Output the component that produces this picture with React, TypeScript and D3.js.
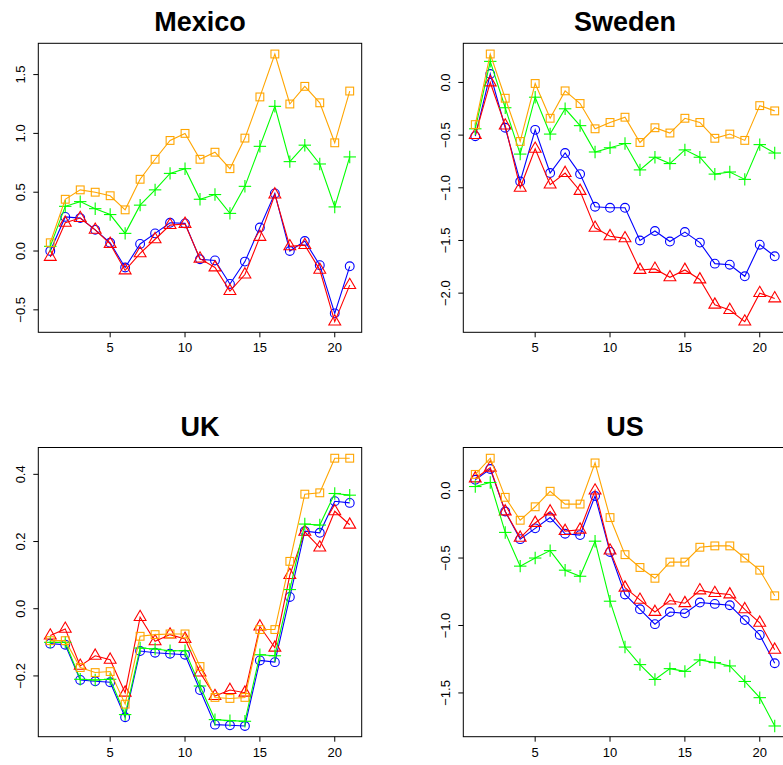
import React from "react";
import * as d3 from "d3";

const xIndex = d3.range(1, 22);

const countries = ["Mexico", "Sweden", "UK", "US"];

const mexicoBlue = [0.0, 0.29, 0.28, 0.18, 0.07, -0.14, 0.06, 0.15, 0.24, 0.235, -0.07, -0.08, -0.28, -0.09, 0.2, 0.49, 0.0, 0.085, -0.12, -0.53, -0.13];
const mexicoRed = [-0.05, 0.24, 0.28, 0.18, 0.06, -0.165, -0.02, 0.1, 0.22, 0.23, -0.065, -0.14, -0.34, -0.2, 0.12, 0.48, 0.04, 0.05, -0.16, -0.6, -0.29];
const mexicoGreen = [0.04, 0.38, 0.42, 0.36, 0.31, 0.15, 0.39, 0.52, 0.66, 0.7, 0.44, 0.48, 0.32, 0.55, 0.89, 1.23, 0.76, 0.9, 0.74, 0.375, 0.8];
const mexicoOrange = [0.07, 0.44, 0.52, 0.5, 0.47, 0.35, 0.61, 0.78, 0.94, 1.0, 0.78, 0.84, 0.7, 0.96, 1.31, 1.675, 1.25, 1.4, 1.26, 0.92, 1.36];

const swedenBlue = [-0.51, 0.08, -0.43, -0.94, -0.45, -0.86, -0.67, -0.87, -1.18, -1.19, -1.19, -1.5, -1.41, -1.51, -1.42, -1.52, -1.72, -1.73, -1.84, -1.54, -1.65];
const swedenRed = [-0.5, 0.0, -0.41, -1.0, -0.63, -0.97, -0.86, -1.03, -1.38, -1.46, -1.48, -1.78, -1.77, -1.85, -1.78, -1.87, -2.11, -2.16, -2.27, -2.0, -2.05];
const swedenGreen = [-0.44, 0.2, -0.24, -0.68, -0.14, -0.49, -0.25, -0.41, -0.66, -0.62, -0.58, -0.83, -0.71, -0.77, -0.64, -0.71, -0.87, -0.85, -0.92, -0.59, -0.67];
const swedenOrange = [-0.4, 0.27, -0.15, -0.56, -0.01, -0.34, -0.08, -0.2, -0.44, -0.38, -0.33, -0.57, -0.43, -0.48, -0.34, -0.38, -0.53, -0.49, -0.55, -0.22, -0.27];

const ukBlue = [-0.104, -0.107, -0.212, -0.216, -0.219, -0.323, -0.126, -0.131, -0.134, -0.137, -0.242, -0.345, -0.347, -0.349, -0.154, -0.159, 0.035, 0.231, 0.226, 0.32, 0.315];
const ukRed = [-0.08, -0.06, -0.17, -0.14, -0.152, -0.25, -0.025, -0.097, -0.077, -0.09, -0.19, -0.26, -0.242, -0.25, -0.053, -0.116, 0.1, 0.229, 0.182, 0.29, 0.25];
const ukGreen = [-0.1, -0.1, -0.21, -0.212, -0.21, -0.315, -0.117, -0.12, -0.125, -0.125, -0.23, -0.33, -0.333, -0.335, -0.137, -0.14, 0.057, 0.252, 0.249, 0.343, 0.338];
const ukOrange = [-0.095, -0.095, -0.175, -0.19, -0.187, -0.284, -0.082, -0.077, -0.075, -0.075, -0.172, -0.264, -0.267, -0.264, -0.062, -0.062, 0.141, 0.341, 0.345, 0.448, 0.448];

const usBlue = [0.08, 0.16, -0.155, -0.36, -0.28, -0.2, -0.32, -0.33, -0.04, -0.455, -0.77, -0.88, -0.99, -0.9, -0.91, -0.83, -0.84, -0.85, -0.96, -1.07, -1.28];
const usRed = [0.09, 0.17, -0.155, -0.35, -0.24, -0.155, -0.3, -0.29, 0.0, -0.445, -0.72, -0.81, -0.9, -0.815, -0.835, -0.74, -0.76, -0.77, -0.88, -0.98, -1.18];
const usGreen = [0.03, 0.06, -0.31, -0.56, -0.5, -0.445, -0.59, -0.635, -0.375, -0.82, -1.16, -1.29, -1.4, -1.32, -1.34, -1.255, -1.275, -1.3, -1.415, -1.535, -1.745];
const usOrange = [0.12, 0.24, -0.05, -0.22, -0.12, -0.005, -0.1, -0.1, 0.205, -0.2, -0.475, -0.57, -0.65, -0.53, -0.53, -0.42, -0.41, -0.41, -0.5, -0.59, -0.78];

const xTicks = [5, 10, 15, 20];
const mexicoYTicks = [-0.5, 0, 0.5, 1.0, 1.5];
const swedenYTicks = [-2.0, -1.5, -1.0, -0.5, 0];
const ukYTicks = [-0.2, 0, 0.2, 0.4];
const usYTicks = [-1.5, -1.0, -0.5, 0];

const seriesColors = ["#0000FF", "#FF0000", "#00FF00", "#FFA500"];
const seriesShapes = ["circle", "triangle", "plus", "square"];

const panelData = [
  [mexicoBlue, mexicoRed, mexicoGreen, mexicoOrange],
  [swedenBlue, swedenRed, swedenGreen, swedenOrange],
  [ukBlue, ukRed, ukGreen, ukOrange],
  [usBlue, usRed, usGreen, usOrange],
];
const panelYTicks = [mexicoYTicks, swedenYTicks, ukYTicks, usYTicks];

const boxes = [
  { x0: 38.3, y0: 43.3, x1: 361.7, y1: 332.3 },
  { x0: 463.3, y0: 43.3, x1: 786.7, y1: 332.3 },
  { x0: 38.3, y0: 447.5, x1: 361.7, y1: 736.7 },
  { x0: 463.3, y0: 447.5, x1: 786.7, y1: 736.7 },
];

const FONT = "'Liberation Sans', Arial, Helvetica, sans-serif";
const fmt = (v: number) => {
  const s = v.toFixed(1);
  return s.startsWith("-") ? "\u2212" + s.slice(1) : s;
};

function Marker({ shape, x, y, color }: { shape: string; x: number; y: number; color: string }) {
  const r = 4.4;
  if (shape === "circle") return <circle cx={x} cy={y} r={r} fill="none" stroke={color} strokeWidth={1.1} />;
  if (shape === "square") {
    const h = r * 0.886;
    return <rect x={x - h} y={y - h} width={2 * h} height={2 * h} fill="none" stroke={color} strokeWidth={1.1} />;
  }
  if (shape === "triangle") {
    const tr = 1.555 * r, yc = 0.778 * r, xc = 1.347 * r;
    const pts = `${x},${y - tr} ${x + xc},${y + yc} ${x - xc},${y + yc}`;
    return <polygon points={pts} fill="none" stroke={color} strokeWidth={1.1} />;
  }
  const p = 1.414 * r;
  return (
    <g stroke={color} strokeWidth={1.1}>
      <line x1={x - p} x2={x + p} y1={y} y2={y} />
      <line x1={x} x2={x} y1={y - p} y2={y + p} />
    </g>
  );
}

function Panel({ idx }: { idx: number }) {
  const b = boxes[idx];
  const data = panelData[idx];
  const all = data.flat();
  const [mn, mx] = d3.extent(all) as [number, number];
  const pad = (mx - mn) * 0.04;
  const x = d3.scaleLinear().domain([0.2, 21.8]).range([b.x0, b.x1]);
  const y = d3.scaleLinear().domain([mn - pad, mx + pad]).range([b.y1, b.y0]);
  const line = d3.line<number>().x((_, i) => x(xIndex[i])).y((d) => y(d));
  return (
    <g>
      <text x={(b.x0 + b.x1) / 2} y={b.y0 - 12} textAnchor="middle" fontFamily={FONT} fontWeight="bold" fontSize={27}>
        {countries[idx]}
      </text>
      {data.map((s, si) => (
        <g key={si}>
          <path d={line(s) || ""} fill="none" stroke={seriesColors[si]} strokeWidth={1.1} />
          {s.map((v, i) => (
            <Marker key={i} shape={seriesShapes[si]} x={x(xIndex[i])} y={y(v)} color={seriesColors[si]} />
          ))}
        </g>
      ))}
      <rect x={b.x0} y={b.y0} width={b.x1 - b.x0} height={b.y1 - b.y0} fill="none" stroke="#000" strokeWidth={1} />
      {xTicks.map((t) => (
        <g key={t}>
          <line x1={x(t)} x2={x(t)} y1={b.y1} y2={b.y1 + 5} stroke="#000" />
          <text x={x(t)} y={b.y1 + 20} textAnchor="middle" fontFamily={FONT} fontSize={13}>
            {t}
          </text>
        </g>
      ))}
      {panelYTicks[idx].map((t) => (
        <g key={t}>
          <line x1={b.x0 - 5} x2={b.x0} y1={y(t)} y2={y(t)} stroke="#000" />
          <text
            transform={`translate(${b.x0 - 13.5},${y(t)}) rotate(-90)`}
            textAnchor="middle"
            fontFamily={FONT}
            fontSize={13}
          >
            {fmt(t)}
          </text>
        </g>
      ))}
    </g>
  );
}

export default function App() {
  return (
    <svg
      width={783}
      height={765}
      style={{ position: "absolute", left: 0, top: 0, background: "#fff" }}
    >
      <rect width={783} height={765} fill="#fff" />
      {[0, 1, 2, 3].map((i) => (
        <Panel key={i} idx={i} />
      ))}
    </svg>
  );
}
